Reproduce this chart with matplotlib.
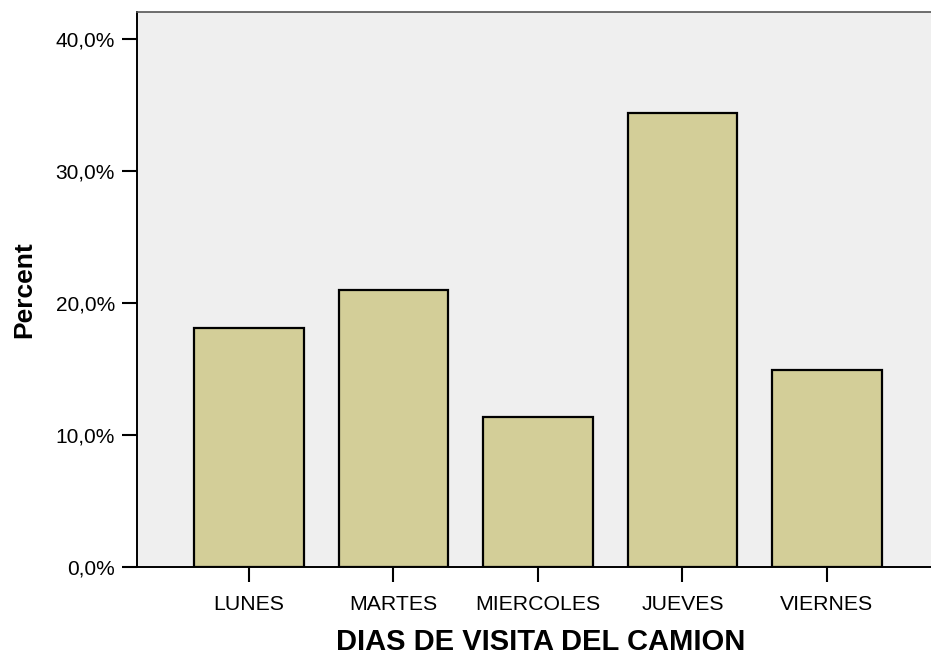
import matplotlib
matplotlib.use("Agg")
import matplotlib.pyplot as plt
from matplotlib.ticker import FuncFormatter

# datos del grafico
dias = ["LUNES", "MARTES", "MIERCOLES", "JUEVES", "VIERNES"]
porcentaje = [18.1, 21.0, 11.4, 34.4, 14.9]
yticks = [0, 10, 20, 30, 40]

plt.rcParams['font.family'] = ['Liberation Sans', 'DejaVu Sans']

fig = plt.figure(figsize=(9.31, 6.57), dpi=100)
ax = fig.add_axes([137/931, 90/657, 1 - 137/931, (567 - 12)/657])
ax.set_facecolor('#efefef')

x = list(range(len(dias)))
ax.bar(x, porcentaje, width=0.755, color='#d3ce98', edgecolor='black', linewidth=1.6, zorder=3)

ax.set_xlim(-0.775, 4.72)
ax.set_ylim(0, 42.05)
ax.set_xticks(x)
ax.set_xticklabels(dias)
ax.set_yticks(yticks)
ax.yaxis.set_major_formatter(FuncFormatter(lambda v, p: f"{v:.1f}%".replace('.', ',')))

ax.tick_params(axis='both', length=11, width=1.5, labelsize=15, pad=5, color='black')
ax.tick_params(axis='x', pad=9, labelsize=15.3)

ax.spines['right'].set_visible(False)
ax.spines['left'].set_linewidth(1.4)
ax.spines['bottom'].set_linewidth(1.4)
ax.spines['top'].set_color('#555555')
ax.spines['top'].set_linewidth(1.2)

ax.set_xlabel("DIAS DE VISITA DEL CAMION", fontsize=21, fontweight='bold', labelpad=10)
ax.xaxis.set_label_coords(0.508, -0.11)
ax.set_ylabel("Percent", fontsize=19, fontweight='bold', labelpad=14)

fig.savefig("out.png", dpi=100)
